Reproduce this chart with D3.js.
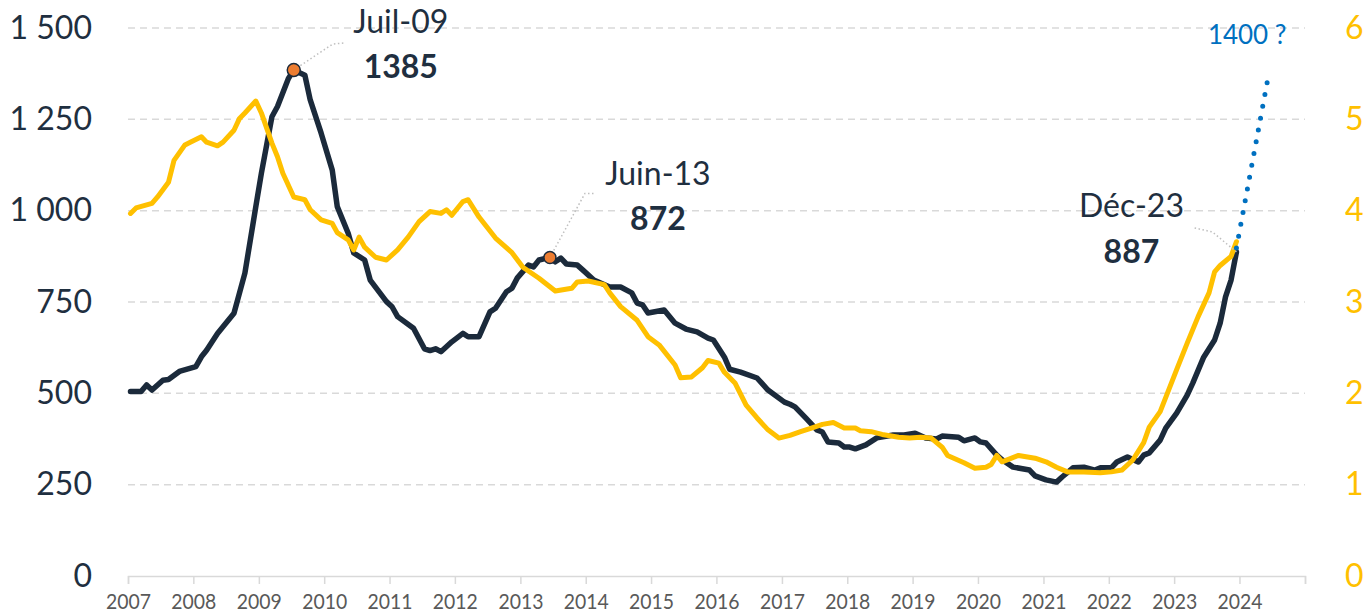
<!DOCTYPE html>
<html><head><meta charset="utf-8">
<script src="https://cdn.jsdelivr.net/npm/d3@7"></script>
<style>
html,body{margin:0;padding:0;background:#fff;}
svg{display:block;font-family:Lato,"Open Sans",sans-serif;}
</style></head>
<body>
<svg id="chart" width="1367" height="616"></svg>
<script>
// ---- data ----
const darkDates = ["2007-01","2007-03","2007-04","2007-05","2007-07","2007-08","2007-10","2008-01","2008-02","2008-03","2008-05","2008-08","2008-10","2008-12","2009-01","2009-03","2009-04","2009-06","2009-07","2009-09","2009-10","2009-12","2010-02","2010-03","2010-05","2010-06","2010-08","2010-09","2010-12","2011-01","2011-02","2011-05","2011-07","2011-08","2011-09","2011-10","2011-12","2012-02","2012-03","2012-05","2012-07","2012-08","2012-10","2012-11","2012-12","2013-02","2013-03","2013-04","2013-06","2013-07","2013-08","2013-09","2013-11","2013-12","2014-02","2014-05","2014-07","2014-09","2014-10","2014-11","2014-12","2015-03","2015-05","2015-07","2015-09","2015-11","2015-12","2016-02","2016-03","2016-05","2016-08","2016-10","2017-01","2017-02","2017-03","2017-05","2017-07","2017-08","2017-09","2017-11","2017-12","2018-01","2018-02","2018-04","2018-06","2018-09","2018-11","2019-01","2019-03","2019-05","2019-06","2019-09","2019-10","2019-12","2020-01","2020-02","2020-04","2020-05","2020-07","2020-10","2020-11","2021-01","2021-03","2021-04","2021-06","2021-08","2021-10","2021-11","2022-01","2022-02","2022-04","2022-06","2022-07","2022-08","2022-10","2022-11","2023-01","2023-03","2023-04","2023-06","2023-08","2023-09","2023-10","2023-11","2023-12"];
const darkValues = [505,505,523,509,536,538,560,573,600,618,664,719,829,1011,1102,1257,1285,1362,1385,1371,1303,1212,1111,1011,938,884,865,810,751,737,710,678,622,617,622,614,641,664,655,655,723,733,778,788,816,851,846,865,872,860,870,854,851,838,810,791,791,775,747,742,720,728,692,676,668,651,646,599,566,558,542,509,476,470,463,432,400,394,367,364,353,353,348,359,378,386,386,391,378,375,383,380,370,378,367,364,331,318,298,290,274,263,257,271,296,298,290,296,296,312,326,312,331,337,372,405,446,495,528,599,646,692,764,810,887];

const yellowDates = ["2007-01","2007-02","2007-05","2007-06","2007-08","2007-09","2007-11","2007-12","2008-02","2008-03","2008-05","2008-06","2008-08","2008-09","2008-10","2008-12","2009-01","2009-03","2009-04","2009-05","2009-07","2009-09","2009-10","2009-12","2010-02","2010-03","2010-05","2010-06","2010-07","2010-08","2010-10","2010-12","2011-02","2011-04","2011-06","2011-08","2011-10","2011-11","2011-12","2012-02","2012-03","2012-05","2012-08","2012-11","2013-01","2013-04","2013-07","2013-10","2013-11","2014-01","2014-04","2014-05","2014-07","2014-10","2014-12","2015-02","2015-05","2015-06","2015-08","2015-10","2015-11","2016-01","2016-02","2016-04","2016-06","2016-08","2016-10","2016-12","2017-02","2017-04","2017-06","2017-08","2017-10","2017-12","2018-02","2018-03","2018-05","2018-07","2018-10","2018-12","2019-02","2019-04","2019-06","2019-07","2019-10","2019-12","2020-02","2020-03","2020-04","2020-05","2020-08","2020-11","2021-01","2021-03","2021-05","2021-08","2021-11","2022-01","2022-03","2022-05","2022-07","2022-08","2022-10","2023-01","2023-03","2023-05","2023-07","2023-08","2023-09","2023-11","2023-12"];
const yellowValues = [3.97,4.03,4.08,4.15,4.31,4.55,4.72,4.75,4.81,4.75,4.71,4.75,4.88,5.01,5.07,5.20,5.07,4.74,4.59,4.41,4.15,4.12,4.01,3.90,3.86,3.76,3.68,3.57,3.71,3.60,3.49,3.46,3.57,3.71,3.88,3.99,3.97,4.01,3.95,4.10,4.12,3.93,3.70,3.54,3.38,3.26,3.12,3.15,3.22,3.23,3.19,3.10,2.95,2.80,2.62,2.53,2.31,2.17,2.18,2.28,2.36,2.33,2.23,2.11,1.87,1.73,1.60,1.51,1.54,1.58,1.62,1.66,1.68,1.62,1.62,1.59,1.58,1.55,1.52,1.51,1.52,1.51,1.41,1.32,1.24,1.18,1.19,1.22,1.32,1.25,1.32,1.29,1.25,1.19,1.14,1.14,1.13,1.14,1.16,1.27,1.46,1.63,1.80,2.26,2.55,2.84,3.10,3.33,3.40,3.50,3.66];

const projDates = ["2023-12","2024-06"];
const projValues = [887, 1370];
const projLabel = "1400 ?";

const annotDates = ["2009-07","2013-06","2023-12"];
const annotNames = ["Juil-09","Juin-13","Déc-23"];
const annotValues = [1385, 872, 887];
const annotDot = [true, true, false];

const leftTicks = [0,250,500,750,1000,1250,1500];
const rightTicks = [0,1,2,3,4,5,6];
const yearLabels = ["2007","2008","2009","2010","2011","2012","2013","2014","2015","2016","2017","2018","2019","2020","2021","2022","2023","2024"];

// ---- helpers ----
const parseMonth = s => { const [y,m] = s.split("-").map(Number); return new Date(y, m-1, 15); };
const fr = d3.formatLocale({decimal:",", thousands:" ", grouping:[3], currency:["","€"]});
const fmt = fr.format(",d");

const svg = d3.select("#chart");
const x = d3.scaleTime().domain([new Date(2007,0,1), new Date(2025,0,1)]).range([128, 1305]);
const yL = d3.scaleLinear().domain([0,1500]).range([576, 28]);
const yR = d3.scaleLinear().domain([0,6]).range([576, 28]);

const navy = "#1B2A3B", gold = "#FFC000", grey = "#D9D9D9";

// gridlines
svg.append("g").selectAll("line").data(leftTicks.filter(d=>d>0)).join("line")
  .attr("x1", x.range()[0]).attr("x2", x.range()[1])
  .attr("y1", d=>yL(d)).attr("y2", d=>yL(d))
  .attr("stroke", grey).attr("stroke-width", 1.5).attr("stroke-dasharray", "7,5");

// left axis labels
const gL = svg.append("g").attr("transform", "translate(92,0)")
  .call(d3.axisLeft(yL).tickValues(leftTicks).tickFormat(fmt).tickSize(0).tickPadding(0));
gL.select(".domain").remove();
gL.selectAll("text").attr("fill", "#1F2F40").style("font-size", "32px").style("font-family", "Lato");

// right axis labels
const gR = svg.append("g").attr("transform", "translate(1345,0)")
  .call(d3.axisRight(yR).tickValues(rightTicks).tickFormat(d3.format("d")).tickSize(0).tickPadding(0));
gR.select(".domain").remove();
gR.selectAll("text").attr("fill", gold).style("font-size", "32px").style("font-family", "Lato");

// x axis
const yearTicks = d3.range(2007, 2026).map(yv => new Date(yv,0,1));
const gX = svg.append("g").attr("transform", "translate(0,576)")
  .call(d3.axisBottom(x).tickValues(yearTicks).tickSize(8).tickPadding(10)
    .tickFormat(d => { const s = String(d.getFullYear()); return yearLabels.includes(s) ? s : ""; }));
gX.select(".domain").attr("stroke", grey).attr("stroke-width", 1.5);
gX.selectAll(".tick line").attr("stroke", grey).attr("stroke-width", 1.5);
gX.selectAll("text").attr("fill", "#595959").style("font-size", "21px").style("font-family", "Lato")
  .filter(function(){ return this.textContent !== ""; })
  .attr("textLength", 45).attr("lengthAdjust", "spacingAndGlyphs");

// lines
const darkData = darkDates.map((d,i) => ({date: parseMonth(d), v: darkValues[i]}));
const yellowData = yellowDates.map((d,i) => ({date: parseMonth(d), v: yellowValues[i]}));
const projData = projDates.map((d,i) => ({date: parseMonth(d), v: projValues[i]}));

svg.append("path").datum(darkData)
  .attr("d", d3.line().x(d=>x(d.date)).y(d=>yL(d.v)))
  .attr("fill","none").attr("stroke", navy).attr("stroke-width", 5.5)
  .attr("stroke-linejoin","round").attr("stroke-linecap","round");

svg.append("path").datum(yellowData)
  .attr("d", d3.line().x(d=>x(d.date)).y(d=>yR(d.v)))
  .attr("fill","none").attr("stroke", gold).attr("stroke-width", 5)
  .attr("stroke-linejoin","round").attr("stroke-linecap","round");

svg.append("path").datum(projData)
  .attr("d", d3.line().x(d=>x(d.date)).y(d=>yL(d.v)))
  .attr("fill","none").attr("stroke", "#0070C0").attr("stroke-width", 5)
  .attr("stroke-dasharray","0,12").attr("stroke-linecap","round")
  .attr("transform","translate(0,-4)");

const pEnd = projData[projData.length-1];
svg.append("text").attr("x", x(pEnd.date) - 22).attr("y", 44)
  .attr("text-anchor","middle").attr("fill","#0070C0")
  .style("font-size","26px").style("font-family","Lato").text(projLabel);

// annotations
const layout = [
  {leader: [[39,-26],[50,-27]], tx: 107, ty1: -37, ty2: 8, r: 6.5},
  {leader: [[35,-64],[45,-64]], tx: 108, ty1: -72, ty2: -27, r: 6},
  {leader: [[-24,-20],[-42,-24]], tx: -105, ty1: -35, ty2: 11, r: 0}
];
annotDates.forEach((d,i) => {
  const px = x(parseMonth(d)), py = yL(annotValues[i]);
  const L = layout[i];
  const pts = [[px,py]].concat(L.leader.map(o => [px+o[0], py+o[1]]));
  svg.append("path").attr("d", d3.line()(pts)).attr("fill","none")
    .attr("stroke","#BFBFBF").attr("stroke-width",1.5).attr("stroke-dasharray","1.5,2.5");
  if (annotDot[i]) {
    svg.append("circle").attr("cx",px).attr("cy",py).attr("r",L.r)
      .attr("fill","#ED7D31").attr("stroke",navy).attr("stroke-width",1.5);
  }
  svg.append("text").attr("x",px+L.tx).attr("y",py+L.ty1).attr("text-anchor","middle")
    .attr("fill","#1F2F40").style("font-size","32px").style("font-family","Lato").text(annotNames[i]);
  svg.append("text").attr("x",px+L.tx).attr("y",py+L.ty2).attr("text-anchor","middle")
    .attr("fill","#1F2F40").style("font-size","32px").style("font-weight","bold").style("font-family","Lato").text(annotValues[i]);
});
</script>
</body></html>
